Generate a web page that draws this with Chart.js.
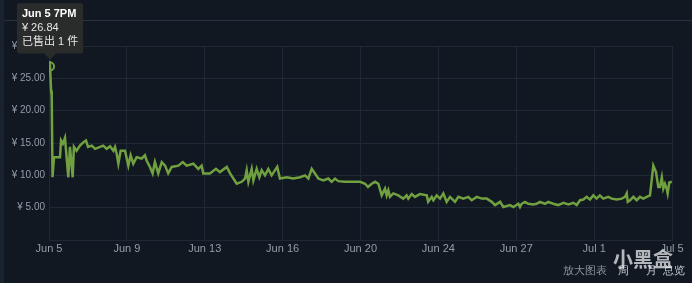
<!DOCTYPE html>
<html>
<head>
    <title>Price History</title>
    <script src="https://cdn.jsdelivr.net/npm/chart.js"></script>
    <style>
        body {
            margin: 0;
            background-color: #111822;
            font-family: Arial, "Liberation Sans", sans-serif;
        }
        .wrap {
            position: relative;
            width: 692px;
            height: 283px;
        }
        .links {
            position: absolute;
            left: 563px;
            top: 263px;
            font-size: 11px;
            color: #8b939b;
            white-space: nowrap;
        }
        .links span { color: #c6ccd2; position: absolute; top: 0; }
        .watermark {
            position: absolute;
            left: 613px;
            top: 244px;
            font-size: 20px;
            font-weight: bold;
            color: rgba(235, 238, 240, 0.75);
            font-family: "Noto Sans CJK SC", sans-serif;
        }
    </style>
</head>
<body>
    <div class="wrap">
        <canvas id="priceChart" width="692" height="283"></canvas>
        <div class="links">放大图表<span style="left:55px">周</span><span style="left:83px">月</span><span style="left:100px">总览</span></div>
        <div class="watermark">小黑盒</div>
    </div>

    <script>
        // days since Jun 5 00:00
        var days = [0.02, 0.05, 0.10, 0.13, 0.17, 0.24, 0.53, 0.58, 0.67, 0.77, 0.93, 1.01, 1.14, 1.20, 1.33, 1.49,
            1.65, 1.78, 1.88, 2.06, 2.22, 2.46, 2.61, 2.78, 2.94, 3.10, 3.18, 3.26, 3.34, 3.45, 3.66, 3.82,
            3.93, 4.06, 4.22, 4.46, 4.62, 4.70, 4.86, 4.99, 5.10, 5.26, 5.43, 5.59, 5.74, 5.91, 6.23, 6.44,
            6.63, 6.95, 7.19, 7.35, 7.43, 7.75, 8.04, 8.23, 8.56, 8.72, 9.04, 9.28, 9.44, 9.52, 9.60, 9.76,
            9.84, 10.00, 10.13, 10.24, 10.40, 10.56, 10.72, 10.99, 11.12, 11.45, 11.76, 12.09, 12.33, 12.49,
            12.65, 12.97, 13.21, 13.45, 13.61, 13.77, 13.93, 14.25, 14.98, 15.22, 15.36, 15.54, 15.70, 15.86,
            16.02, 16.18, 16.26, 16.34, 16.42, 16.58, 16.82, 17.06, 17.22, 17.30, 17.47, 17.62, 17.86, 18.19,
            18.26, 18.43, 18.51, 18.67, 18.83, 18.99, 19.15, 19.31, 19.55, 19.71, 19.95, 20.19, 20.35, 20.60,
            20.84, 21.08, 21.32, 21.48, 21.72, 21.88, 22.20, 22.36, 22.60, 22.68, 22.76, 22.92, 23.08, 23.32,
            23.48, 23.64, 23.88, 24.04, 24.28, 24.52, 24.77, 25.01, 25.25, 25.41, 25.57, 25.73, 25.89, 26.05,
            26.21, 26.37, 26.53, 26.69, 26.93, 27.10, 27.34, 27.58, 27.74, 27.82, 27.87, 27.98, 28.14, 28.30,
            28.46, 28.62, 28.78, 28.94, 29.10, 29.23, 29.34, 29.42, 29.51, 29.58, 29.66, 29.74, 29.79, 29.87, 29.99];

        var prices = [27.7, 26.84, 23.1, 22.3, 9.7, 12.8, 12.8, 15.4, 14.9, 15.8, 9.7, 14.4, 9.7, 14.4, 13.8, 14.6,
            15.1, 15.4, 14.4, 14.6, 14.1, 14.4, 14.6, 14.1, 14.5, 13.8, 14.4, 13.3, 11.8, 13.8, 13.8, 11.5,
            13.1, 11.8, 12.8, 12.6, 13.1, 12.3, 11.3, 10.3, 12.05, 10.3, 12.05, 11.5, 10.3, 11.3, 11.5, 12.05,
            11.5, 11.8, 11.0, 11.5, 10.3, 10.3, 11.0, 10.5, 11.3, 10.3, 8.7, 9.0, 9.5, 10.8, 9.0, 11.0,
            9.2, 11.0, 9.7, 10.8, 10.0, 11.0, 10.0, 11.3, 9.5, 9.7, 9.5, 9.7, 10.0, 9.5,
            11.0, 9.5, 9.2, 9.5, 9.0, 9.5, 9.1, 9.0, 9.0, 8.7, 8.2, 8.7, 9.0, 8.7,
            6.9, 7.95, 6.9, 7.7, 6.67, 7.2, 6.9, 6.4, 6.9, 6.4, 7.1, 6.67, 7.1, 6.9,
            5.9, 6.67, 6.15, 6.9, 6.4, 7.2, 5.9, 6.67, 5.9, 6.67, 6.4, 6.67, 6.15, 6.67,
            6.4, 6.4, 5.9, 5.4, 5.9, 5.1, 5.4, 5.1, 5.6, 5.1, 5.6, 5.9, 5.6, 5.5,
            5.6, 5.9, 5.6, 5.9, 5.6, 5.4, 5.75, 5.5, 5.75, 5.4, 6.15, 6.25, 6.67, 6.25,
            6.9, 6.4, 6.9, 6.4, 6.67, 6.4, 6.25, 6.4, 6.67, 7.2, 5.9, 6.15, 6.67, 6.15,
            6.67, 6.4, 6.67, 6.9, 11.5, 10.5, 8.2, 8.2, 9.7, 7.95, 8.7, 7.95, 7.2, 8.9, 9.0];

        var xTickLabels = ["Jun 5", "Jun 9", "Jun 13", "Jun 16", "Jun 20", "Jun 24", "Jun 27", "Jul 1", "Jul 5"];
        var soldCounts = [1, 1];
        var hoverTitle = "Jun 5 7PM";
        var hoverIndex = 1;

        var points = [];
        for (var i = 0; i < days.length; i++) {
            points.push({ x: days[i], y: prices[i] });
        }

        var gridColor = '#1e2935';
        var tickColor = '#949ea8';

        // dark page frame: left strip and the rule above the plot
        var framePlugin = {
            id: 'frame',
            beforeDraw: function(chart) {
                var c = chart.ctx;
                c.save();
                c.fillStyle = '#111822';
                c.fillRect(0, 0, chart.width, chart.height);
                c.fillStyle = '#19232f';
                c.fillRect(0, 0, 4, chart.height);
                c.strokeStyle = '#27323f';
                c.lineWidth = 1;
                c.beginPath();
                c.moveTo(4, 20.5);
                c.lineTo(chart.width, 20.5);
                c.stroke();
                c.restore();
            }
        };

        var ctx = document.getElementById('priceChart').getContext('2d');
        var priceChart = new Chart(ctx, {
            type: 'line',
            data: {
                datasets: [{
                    data: points,
                    borderColor: '#71a040',
                    borderWidth: 2.5,
                    pointRadius: 0,
                    pointHoverRadius: 4,
                    pointHoverBorderWidth: 2,
                    pointHoverBorderColor: '#71a040',
                    pointHoverBackgroundColor: 'rgba(0,0,0,0)',
                    tension: 0,
                    fill: false
                }]
            },
            options: {
                responsive: false,
                animation: false,
                events: [],
                layout: { padding: { top: 46, right: 20, bottom: 0, left: 0 } },
                scales: {
                    x: {
                        type: 'linear',
                        min: 0,
                        max: 30,
                        afterFit: function(scale) { scale.height = 43; },
                        afterBuildTicks: function(scale) {
                            scale.ticks = xTickLabels.map(function(label, i) { return { value: i * 30 / (xTickLabels.length - 1) }; });
                        },
                        ticks: {
                            autoSkip: false,
                            maxRotation: 0,
                            padding: 2,
                            color: tickColor,
                            font: { family: 'Arial', size: 11 },
                            callback: function(value, index) { return xTickLabels[index]; }
                        },
                        grid: { color: gridColor, drawTicks: false },
                        border: { color: gridColor }
                    },
                    y: {
                        min: 0,
                        max: 30,
                        afterFit: function(scale) { scale.width = 49; },
                        ticks: {
                            stepSize: 5,
                            padding: 4,
                            color: tickColor,
                            font: { family: 'Arial', size: 10 },
                            callback: function(value) { return value === 0 ? '' : '¥ ' + value.toFixed(2); }
                        },
                        grid: { color: gridColor, drawTicks: false },
                        border: { color: gridColor }
                    }
                },
                plugins: {
                    legend: { display: false },
                    tooltip: {
                        enabled: true,
                        yAlign: 'bottom',
                        xAlign: 'center',
                        backgroundColor: 'rgba(44, 44, 44, 0.96)',
                        titleColor: '#ffffff',
                        bodyColor: '#e6e6e6',
                        titleFont: { family: 'Arial', size: 11, weight: 'bold', lineHeight: 1.1 },
                        bodyFont: { family: 'Arial, "Noto Sans CJK SC"', size: 11, lineHeight: 1.1 },
                        titleMarginBottom: 2,
                        bodySpacing: 2,
                        padding: 5,
                        caretSize: 6,
                        caretPadding: 7,
                        cornerRadius: 2,
                        displayColors: false,
                        callbacks: {
                            title: function() { return hoverTitle; },
                            label: function(item) {
                                return ['¥ ' + prices[item.dataIndex].toFixed(2), '已售出 ' + soldCounts[item.dataIndex] + ' 件'];
                            }
                        }
                    }
                }
            },
            plugins: [framePlugin]
        });

        // show the hovered point like the screenshot
        var active = [{ datasetIndex: 0, index: hoverIndex }];
        priceChart.setActiveElements(active);
        priceChart.tooltip.setActiveElements(active, { x: 0, y: 0 });
        priceChart.update('none');
    </script>
</body>
</html>
